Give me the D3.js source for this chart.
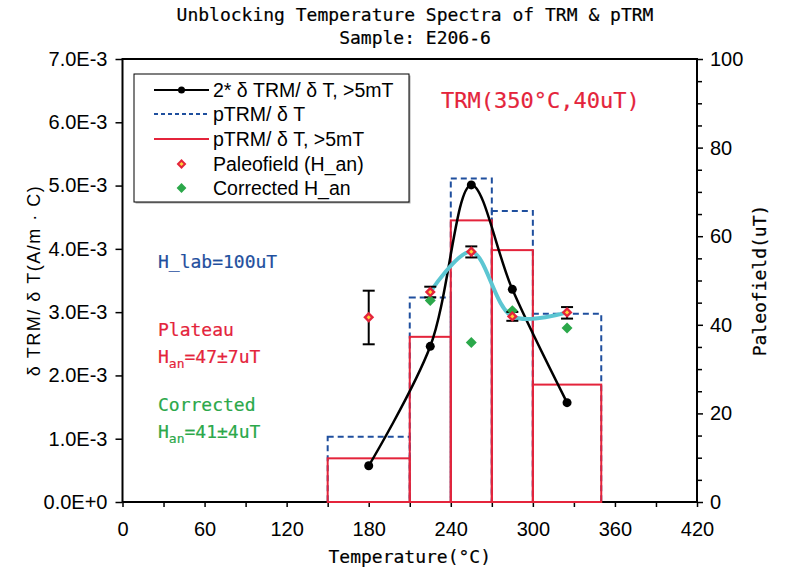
<!DOCTYPE html>
<html>
<head>
<meta charset="utf-8">
<script src="https://cdn.jsdelivr.net/npm/d3@7"></script>
<style>
  html, body { margin: 0; padding: 0; background: #fff; }
  svg { display: block; }
  .mono { font-family: 'DejaVu Sans Mono', monospace; stroke: currentColor; stroke-width: 0.2px; }
</style>
</head>
<body>
<svg id="chart" width="786" height="585"></svg>
<script>
// Step-wise spectra: temperature bin edges and value per bin (A/m·°C)
const binEdges = [150, 210, 240, 270, 300, 350];
const pTRMAll = [1.03e-3, 3.23e-3, 5.11e-3, 4.60e-3, 2.975e-3];   // pTRM/δT
const pTRMHi = [0.69e-3, 2.61e-3, 4.45e-3, 3.98e-3, 1.855e-3];    // pTRM/δT, >5mT

// 2*δTRM/δT, >5mT
const trmTemps = [180, 225, 255, 285, 325];
const trmValues = [0.572e-3, 2.46e-3, 5.01e-3, 3.36e-3, 1.57e-3];

// Paleofield estimates (uT) with error bars
const paleoTemps = [180, 225, 255, 285, 325];
const paleoH = [41.7, 47.4, 56.5, 41.9, 42.8];
const paleoLo = [35.6, 46.2, 55.2, 40.9, 41.4];
const paleoHi = [47.7, 48.6, 57.7, 42.9, 44.0];

// Corrected paleofield (uT)
const corrTemps = [225, 255, 285, 325];
const corrH = [45.5, 36.0, 43.2, 39.3];

// Axis ticks
const xTicks = [0, 60, 120, 180, 240, 300, 360, 420];
const yTicks = [0, 1e-3, 2e-3, 3e-3, 4e-3, 5e-3, 6e-3, 7e-3];
const yTickLabels = ["0.0E+0", "1.0E-3", "2.0E-3", "3.0E-3", "4.0E-3", "5.0E-3", "6.0E-3", "7.0E-3"];
const y2Ticks = [0, 20, 40, 60, 80, 100];

const RED = "#e4243b", BLUE = "#1f4f9e", GREEN = "#2ba84a", CYAN = "#5cc6d2", YELLOW = "#ffd23a";
const SANS = "'Liberation Sans', Arial, sans-serif";

const L = 122.5, R = 697, T = 59, B = 502;
const svg = d3.select("#chart");

const x = d3.scaleLinear().domain([0, 420]).range([L, R]);
const y = d3.scaleLinear().domain([0, 7e-3]).range([B, T]);
const y2 = d3.scaleLinear().domain([0, 100]).range([B, T]);

function monoText(px, py, size, color, str) {
  return svg.append("text").attr("class", "mono").attr("x", px).attr("y", py)
    .style("font-size", size + "px").style("color", color).attr("fill", color).text(str);
}

// Title
monoText(415, 21, 18, "#000", "Unblocking Temperature Spectra of TRM & pTRM").attr("text-anchor", "middle");
monoText(415, 44, 18, "#000", "Sample: E206-6").attr("text-anchor", "middle");

// Axes
const axStyle = g => {
  g.select(".domain").remove();
  g.selectAll("line").attr("stroke", "#000").attr("stroke-width", 1.5);
  g.selectAll("text").style("font-family", SANS).style("font-size", "20px").attr("fill", "#000");
};

const xAxis = d3.axisBottom(x).tickValues(d3.range(0, 421, 30)).tickSize(5)
  .tickFormat(d => xTicks.includes(d) ? d : "").tickPadding(15);
svg.append("g").attr("transform", `translate(0,${B})`).call(xAxis).call(axStyle);

const yAxis = d3.axisLeft(y).tickValues(yTicks).tickSize(7)
  .tickFormat((d, i) => yTickLabels[i]).tickPadding(8);
svg.append("g").attr("transform", `translate(${L},0)`).call(yAxis).call(axStyle);

const y2Axis = d3.axisRight(y2).tickValues(d3.range(0, 101, 5))
  .tickSize(5).tickFormat(d => y2Ticks.includes(d) ? d : "").tickPadding(8);
const g2 = svg.append("g").attr("transform", `translate(${R},0)`).call(y2Axis).call(axStyle);
g2.selectAll(".tick").filter(d => y2Ticks.includes(d)).select("line").attr("x2", 6);

// Frame
svg.append("path")
  .attr("d", `M${L},${B}V${T}H${R}V${B}H${L}`)
  .attr("fill", "none").attr("stroke", "#000").attr("stroke-width", 2);

// Axis titles
svg.append("text").attr("transform", `translate(40,${(T + B) / 2}) rotate(-90)`)
  .attr("text-anchor", "middle")
  .style("font-family", SANS).style("font-size", "18px").style("letter-spacing", "1.5px")
  .text("δ TRM/ δ T(A/m · C)");
svg.append("text").attr("class", "mono").attr("transform", `translate(766,${(T + B) / 2}) rotate(-90)`)
  .attr("text-anchor", "middle").style("font-size", "18px").style("color", "#000")
  .text("Paleofield(uT)");
monoText((L + R) / 2, 563, 18, "#000", "Temperature(°C)").attr("text-anchor", "middle");

// Bars: pTRM/δT (dashed blue) below, pTRM/δT >5mT (red) on top
const bins = pTRMAll.map((v, i) => ({ x0: binEdges[i], x1: binEdges[i + 1], all: v, hi: pTRMHi[i] }));
svg.append("g").selectAll("rect").data(bins).join("rect")
  .attr("x", d => x(d.x0)).attr("width", d => x(d.x1) - x(d.x0))
  .attr("y", d => y(d.all)).attr("height", d => y(0) - y(d.all))
  .attr("fill", "none").attr("stroke", BLUE).attr("stroke-width", 2)
  .attr("stroke-dasharray", "6,4");
svg.append("g").selectAll("rect").data(bins).join("rect")
  .attr("x", d => x(d.x0)).attr("width", d => x(d.x1) - x(d.x0))
  .attr("y", d => y(d.hi)).attr("height", d => y(0) - y(d.hi))
  .attr("fill", "none").attr("stroke", RED).attr("stroke-width", 2);

// 2*δTRM/δT smooth curve
const trmPts = trmTemps.map((t, i) => [x(t), y(trmValues[i])]);
svg.append("path").attr("d", d3.line().curve(d3.curveCatmullRom.alpha(0.5))(trmPts))
  .attr("fill", "none").attr("stroke", "#000").attr("stroke-width", 2.5);
svg.append("g").selectAll("circle").data(trmPts).join("circle")
  .attr("cx", d => d[0]).attr("cy", d => d[1]).attr("r", 4.5).attr("fill", "#000");

// Paleofield trend (cyan)
const cyanPts = paleoTemps.slice(1).map((t, i) => [x(t), y2(paleoH[i + 1])]);
svg.append("path").attr("d", d3.line().curve(d3.curveCatmullRom.alpha(0.5))(cyanPts))
  .attr("fill", "none").attr("stroke", CYAN).attr("stroke-width", 4);

// Error bars
const eb = svg.append("g").attr("stroke", "#000").attr("stroke-width", 2);
paleoTemps.forEach((t, i) => {
  const cx = x(t);
  eb.append("line").attr("x1", cx).attr("x2", cx).attr("y1", y2(paleoLo[i])).attr("y2", y2(paleoHi[i]));
  [paleoLo[i], paleoHi[i]].forEach(v =>
    eb.append("line").attr("x1", cx - 6).attr("x2", cx + 6).attr("y1", y2(v)).attr("y2", y2(v)));
});

const diamond = d3.symbol(d3.symbolSquare, 60);
const diamondSmall = d3.symbol(d3.symbolSquare, 9);

// Corrected H_an
svg.append("g").selectAll("path").data(corrTemps).join("path")
  .attr("d", diamond)
  .attr("transform", (t, i) => `translate(${x(t)},${y2(corrH[i])}) rotate(45)`)
  .attr("fill", GREEN);

// Paleofield diamonds
const pd = svg.append("g");
paleoTemps.forEach((t, i) => {
  pd.append("path").attr("d", diamond)
    .attr("transform", `translate(${x(t)},${y2(paleoH[i])}) rotate(45)`).attr("fill", RED);
  pd.append("path").attr("d", diamondSmall)
    .attr("transform", `translate(${x(t)},${y2(paleoH[i])}) rotate(45)`).attr("fill", YELLOW);
});

// Annotations
monoText(441, 108, 22, RED, "TRM(350°C,40uT)");
monoText(158, 268, 18, BLUE, "H_lab=100uT");

function hanText(yPos, color, rest) {
  const t = monoText(158, yPos, 18, color, null);
  t.append("tspan").text("H");
  t.append("tspan").attr("dy", 5).style("font-size", "13px").text("an");
  t.append("tspan").attr("dy", -5).text(rest);
}
monoText(158, 336, 18, RED, "Plateau");
hanText(363, RED, "=47±7uT");
monoText(158, 411, 18, GREEN, "Corrected");
hanText(438, GREEN, "=41±4uT");

// Legend
const lg = svg.append("g");
lg.append("rect").attr("x", 135.5).attr("y", 75.5).attr("width", 275).attr("height", 128)
  .attr("fill", "#aaa");
lg.append("rect").attr("x", 134).attr("y", 74).attr("width", 275).attr("height", 128)
  .attr("fill", "#fff").attr("stroke", "#000").attr("stroke-width", 1);
const rows = [
  { label: "2* δ TRM/ δ T, >5mT", kind: "black" },
  { label: "pTRM/ δ T", kind: "blue" },
  { label: "pTRM/ δ T, >5mT", kind: "red" },
  { label: "Paleofield (H_an)", kind: "paleo" },
  { label: "Corrected H_an", kind: "corr" }
];
const rowY = [90, 114, 139, 164, 188];
rows.forEach((r, i) => {
  const yy = rowY[i];
  if (r.kind === "black") {
    lg.append("line").attr("x1", 154).attr("x2", 209).attr("y1", yy).attr("y2", yy)
      .attr("stroke", "#000").attr("stroke-width", 2);
    lg.append("circle").attr("cx", 181.5).attr("cy", yy).attr("r", 3.5).attr("fill", "#000");
  } else if (r.kind === "blue") {
    lg.append("line").attr("x1", 154).attr("x2", 209).attr("y1", yy).attr("y2", yy)
      .attr("stroke", BLUE).attr("stroke-width", 2).attr("stroke-dasharray", "4,3");
  } else if (r.kind === "red") {
    lg.append("line").attr("x1", 154).attr("x2", 209).attr("y1", yy).attr("y2", yy)
      .attr("stroke", RED).attr("stroke-width", 2);
  } else if (r.kind === "paleo") {
    lg.append("path").attr("d", d3.symbol(d3.symbolSquare, 48))
      .attr("transform", `translate(181.5,${yy}) rotate(45)`).attr("fill", RED);
    lg.append("path").attr("d", diamondSmall)
      .attr("transform", `translate(181.5,${yy}) rotate(45)`).attr("fill", YELLOW);
  } else {
    lg.append("path").attr("d", d3.symbol(d3.symbolSquare, 48))
      .attr("transform", `translate(181.5,${yy}) rotate(45)`).attr("fill", GREEN);
  }
  lg.append("text").attr("x", 213).attr("y", yy + 7)
    .style("font-family", SANS).style("font-size", "19.5px").text(r.label);
});
</script>
</body>
</html>
